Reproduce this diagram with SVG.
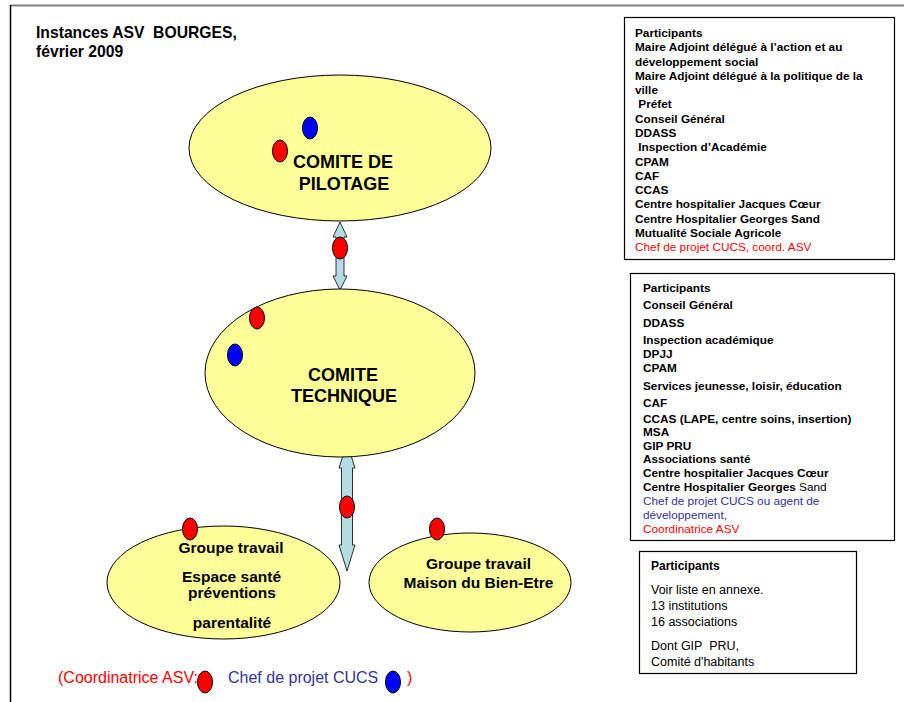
<svg xmlns="http://www.w3.org/2000/svg" width="904" height="702" viewBox="0 0 904 702">
  <style>
    text { white-space: pre; }
    .node { fill: #ffff99; stroke: #000; stroke-width: 1; }
    .title { font-family: "Liberation Sans", Arial, sans-serif; font-weight: bold; font-size: 15.7px; fill: #000; }
    .big { font-family: "Liberation Sans", Arial, sans-serif; font-weight: bold; font-size: 18px; fill: #000; text-anchor: middle; }
    .grp { font-family: "Liberation Sans", Arial, sans-serif; font-weight: bold; font-size: 15.5px; fill: #000; text-anchor: middle; }
    .box { fill: #fff; stroke: #000; stroke-width: 1.2; }
    .lst { font-family: "Liberation Sans", Arial, sans-serif; font-weight: bold; font-size: 11.8px; fill: #000; }
    .reg { font-weight: normal; }
    .red { fill: #ff0000; }
    .blu { fill: #333399; }
    .txt3 { font-family: "Liberation Sans", Arial, sans-serif; font-size: 12.5px; fill: #000; }
    .leg { font-family: "Liberation Sans", Arial, sans-serif; font-size: 16px; }
    .dotR { fill: #ff0000; stroke: #000; stroke-width: 1; }
    .dotB { fill: #0000ff; stroke: #000; stroke-width: 1; }
    .arrow { fill: #b4dce2; stroke: #000; stroke-width: 0.8; }
  </style>

  <!-- page frame -->
  <line x1="10" y1="5.5" x2="904" y2="5.5" stroke="#808080" stroke-width="2"/>
  <line x1="10.5" y1="5" x2="10.5" y2="702" stroke="#000" stroke-width="1.5"/>

  <!-- title -->
  <text class="title" x="36" y="38">Instances ASV  BOURGES,</text>
  <text class="title" x="36" y="57">février 2009</text>

  <!-- connectors: double-headed block arrows -->
  <g id="connectors">
    <polygon class="arrow" points="340,222 347,237 344,237 344,276 347,276 340,290 333,276 336,276 336,237 333,237"/>
    <polygon class="arrow" points="347,443 355,468 352.5,468 352.5,545 355,545 347,571 339,545 341.5,545 341.5,468 339,468"/>
    <ellipse class="dotR" cx="340" cy="248" rx="7.5" ry="11"/>
    <ellipse class="dotR" cx="347" cy="507" rx="7.5" ry="11"/>
  </g>

  <g id="comite-pilotage">
    <ellipse class="node" cx="340" cy="148" rx="151" ry="73"/>
    <ellipse class="dotB" cx="310" cy="128" rx="7.5" ry="11"/>
    <ellipse class="dotR" cx="280" cy="151" rx="7.5" ry="11"/>
    <text class="big" x="343" y="168">COMITE DE</text>
    <text class="big" x="344" y="190">PILOTAGE</text>
  </g>

  <g id="comite-technique">
    <ellipse class="node" cx="340" cy="373" rx="135" ry="84"/>
    <ellipse class="dotR" cx="257" cy="318" rx="7.5" ry="11"/>
    <ellipse class="dotB" cx="235" cy="355" rx="7.5" ry="11"/>
    <text class="big" x="343" y="381">COMITE</text>
    <text class="big" x="344" y="402">TECHNIQUE</text>
  </g>

  <g id="groupe-espace-sante">
    <ellipse class="node" cx="223.5" cy="582.5" rx="116.5" ry="56.5"/>
    <ellipse class="dotR" cx="190" cy="529" rx="7.5" ry="11"/>
    <text class="grp" x="231" y="553">Groupe travail</text>
    <text class="grp" x="231.5" y="582">Espace santé</text>
    <text class="grp" x="232" y="598">préventions</text>
    <text class="grp" x="232" y="628">parentalité</text>
  </g>

  <g id="groupe-bien-etre">
    <ellipse class="node" cx="470" cy="582.5" rx="101" ry="49.5"/>
    <ellipse class="dotR" cx="437" cy="529" rx="7.5" ry="11"/>
    <text class="grp" x="478.5" y="569">Groupe travail</text>
    <text class="grp" x="478.5" y="588">Maison du Bien-Etre</text>
  </g>

  <g id="participants-pilotage">
    <rect class="box" x="624.5" y="17.5" width="270" height="242"/>
    <text class="lst" x="635" y="37">Participants</text>
    <text class="lst" x="635" y="51.3">Maire Adjoint délégué à l’action et au</text>
    <text class="lst" x="635" y="65.6">développement social</text>
    <text class="lst" x="635" y="79.8">Maire Adjoint délégué à la politique de la</text>
    <text class="lst" x="635" y="94.1">ville</text>
    <text class="lst" x="635" y="108.4"> Préfet</text>
    <text class="lst" x="635" y="122.6">Conseil Général</text>
    <text class="lst" x="635" y="136.9">DDASS</text>
    <text class="lst" x="635" y="151.2"> Inspection d’Académie</text>
    <text class="lst" x="635" y="165.5">CPAM</text>
    <text class="lst" x="635" y="179.7">CAF</text>
    <text class="lst" x="635" y="194">CCAS</text>
    <text class="lst" x="635" y="208.3">Centre hospitalier Jacques Cœur</text>
    <text class="lst" x="635" y="222.5">Centre Hospitalier Georges Sand</text>
    <text class="lst" x="635" y="236.8">Mutualité Sociale Agricole</text>
    <text class="lst reg red" x="635" y="251.1">Chef de projet CUCS, coord. ASV</text>
  </g>

  <g id="participants-technique">
    <rect class="box" x="630.5" y="273.5" width="264" height="267"/>
    <text class="lst" x="643" y="291.5">Participants</text>
    <text class="lst" x="643" y="309">Conseil Général</text>
    <text class="lst" x="643" y="327">DDASS</text>
    <text class="lst" x="643" y="344">Inspection académique</text>
    <text class="lst" x="643" y="357.5">DPJJ</text>
    <text class="lst" x="643" y="371.5">CPAM</text>
    <text class="lst" x="643" y="389.5">Services jeunesse, loisir, éducation</text>
    <text class="lst" x="643" y="406.5">CAF</text>
    <text class="lst" x="643" y="423">CCAS (LAPE, centre soins, insertion)</text>
    <text class="lst" x="643" y="436">MSA</text>
    <text class="lst" x="643" y="449.5">GIP PRU</text>
    <text class="lst" x="643" y="463">Associations santé</text>
    <text class="lst" x="643" y="477">Centre hospitalier Jacques Cœur</text>
    <text class="lst" x="643" y="491">Centre Hospitalier Georges<tspan class="reg"> Sand</tspan></text>
    <text class="lst reg blu" x="643" y="505">Chef de projet CUCS ou agent de</text>
    <text class="lst reg blu" x="643" y="519">développement,</text>
    <text class="lst reg red" x="643" y="533">Coordinatrice ASV</text>
  </g>

  <g id="participants-groupes">
    <rect class="box" x="639.5" y="551.5" width="217" height="122"/>
    <text class="lst" x="651" y="570" style="font-size:12px">Participants</text>
    <text class="txt3" x="651" y="594">Voir liste en annexe.</text>
    <text class="txt3" x="651" y="610">13 institutions</text>
    <text class="txt3" x="651" y="625.5">16 associations</text>
    <text class="txt3" x="651" y="649.5">Dont GIP  PRU,</text>
    <text class="txt3" x="651" y="665.5">Comité d'habitants</text>
  </g>

  <g id="legend">
    <text class="leg" x="58" y="683" fill="#ff0000">(Coordinatrice ASV:</text>
    <ellipse class="dotR" cx="205" cy="682" rx="7.5" ry="11"/>
    <text class="leg" x="228" y="683" fill="#333399">Chef de projet CUCS</text>
    <ellipse class="dotB" cx="393" cy="682" rx="7.5" ry="11"/>
    <text class="leg" x="407" y="683" fill="#ff0000">)</text>
  </g>
</svg>
